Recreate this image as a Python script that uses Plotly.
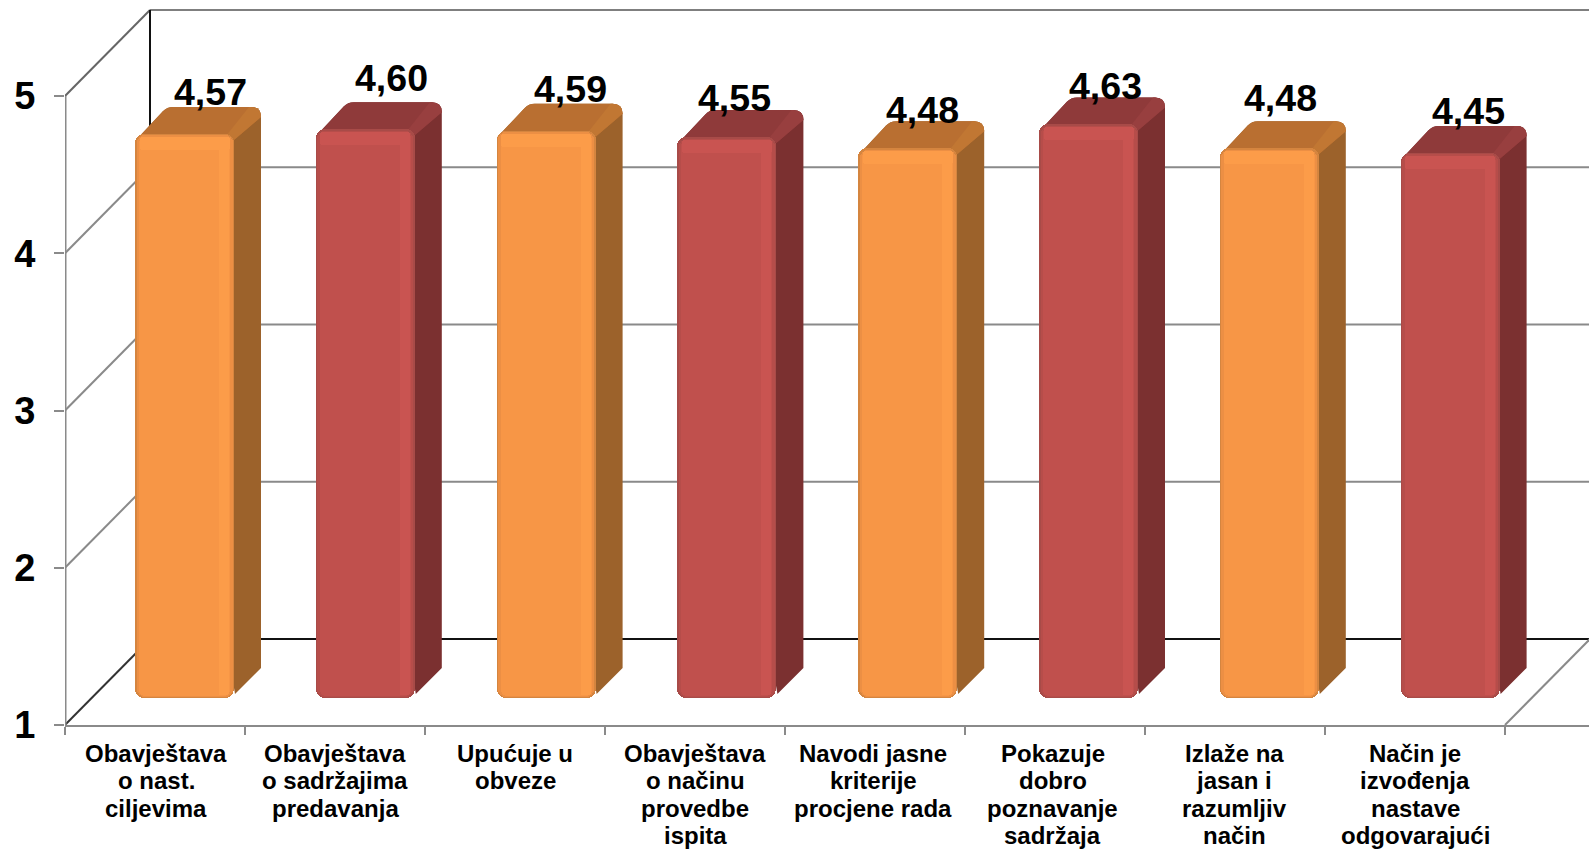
import math
import plotly.graph_objects as go

# ---- data ----
category_lines = [
    ["Obavještava", "o nast.", "ciljevima"],
    ["Obavještava", "o sadržajima", "predavanja"],
    ["Upućuje u", "obveze"],
    ["Obavještava", "o načinu", "provedbe", "ispita"],
    ["Navodi jasne", "kriterije", "procjene rada"],
    ["Pokazuje", "dobro", "poznavanje", "sadržaja"],
    ["Izlaže na", "jasan i", "razumljiv", "način"],
    ["Način je", "izvođenja", "nastave", "odgovarajući"],
]
values = [4.57, 4.60, 4.59, 4.55, 4.48, 4.63, 4.48, 4.45]
value_labels = ["4,57", "4,60", "4,59", "4,55", "4,48", "4,63", "4,48", "4,45"]
y_ticks = [1, 2, 3, 4, 5]

# ---- hand placed label nudges (pixels) ----
label_dx = [26.3, 25.7, 24.4, 7.8, 14.3, 17.1, 10.7, 18.3]
label_dy = [41.8, 51.2, 41.6, 38.8, 37.7, 38.5, 49.9, 42.4]
category_dx = [1, 0, 0, 0, -2, -2.5, -1, 0]

# ---- styles ----
W, H = 1589, 849
M_L, M_B = 65, 124
PX_X, PX_Y = 180.0, 157.25
WALL_DX, WALL_DY = 85, 86
BAR_DEPTH = 27
BAR_W = 99
BAR_PITCH = 180.8 / PX_X
BAR_START = 70 / PX_X
BAR_FLOOR = 27 / PX_Y
BAR_SCALE = 158 / PX_Y
GREY = "#8a8a8a"
FONT = "Liberation Sans"
pal = [
    dict(outer="#D5853F", edge="#EC8F44", main="#F79646", bright="#FC9C49",
         top="#B96F31", bevel="#C17733", side="#9C622B"),
    dict(outer="#A84B48", edge="#B64D4A", main="#C0504D", bright="#C95451",
         top="#8F3A3A", bevel="#983F3F", side="#7B3030"),
]
n = len(values)
colors = [pal[i % 2] for i in range(n)]


def dx(p):
    return p / PX_X


def dy(p):
    return p / PX_Y


def rounded_path(pts):
    """pts: (x_data, y_data, radius_px). Builds a closed path, rounding in pixel space."""
    m = len(pts)
    out = []
    for k in range(m):
        x, y, r = pts[k]
        if r <= 0:
            out.append(("L", x, y))
            continue
        px, py, _ = pts[k - 1]
        nx, ny, _ = pts[(k + 1) % m]
        v1 = ((px - x) * PX_X, (py - y) * PX_Y)
        v2 = ((nx - x) * PX_X, (ny - y) * PX_Y)
        l1, l2 = math.hypot(*v1), math.hypot(*v2)
        a = (x + v1[0] / l1 * r / PX_X, y + v1[1] / l1 * r / PX_Y)
        b = (x + v2[0] / l2 * r / PX_X, y + v2[1] / l2 * r / PX_Y)
        out.append(("L", a[0], a[1]))
        out.append(("Q", x, y, b[0], b[1]))
    s = ""
    for j, o in enumerate(out):
        if o[0] == "L":
            s += f"{'M' if j == 0 else 'L'}{o[1]:.5f},{o[2]:.5f} "
        else:
            s += f"Q{o[1]:.5f},{o[2]:.5f} {o[3]:.5f},{o[4]:.5f} "
    return s + "Z"


shapes = []


def line(x0, y0, x1, y1, color=GREY, width=2):
    shapes.append(dict(type="line", xref="x", yref="y", x0=x0, y0=y0, x1=x1, y1=y1,
                       layer="below", line=dict(color=color, width=width)))


def poly(pts, color):
    shapes.append(dict(type="path", xref="x", yref="y", path=rounded_path(pts),
                       fillcolor=color, layer="below", line=dict(width=0)))


# ---- chart frame, from the axis ticks ----
wx, wy = dx(WALL_DX), dy(WALL_DY)
x_max = (W - M_L) / PX_X
y_max = 1 + (H - M_B) / PX_Y
for t in y_ticks:
    if t == 1:
        line(wx, t + wy, x_max, t + wy, "#111111")
        line(0, t, wx, t + wy, "#333333")
    else:
        line(wx, t + wy, x_max, t + wy, "#7f7f7f" if t == 5 else GREY)
        line(0, t, wx, t + wy, "#666666" if t == 5 else GREY)
line(wx, 1 + wy, wx, 5 + wy, "#111111")
line(n, 1, n + wx, 1 + wy)
# front-left upright stops at the top tick, so it is drawn rather than left to the axis line
line(dx(0.5), 1, dx(0.5), 5)

# ---- bar geometry ----
lefts = [BAR_START + i * BAR_PITCH for i in range(n)]
rights = [l + dx(BAR_W) for l in lefts]
centers = [l + dx(BAR_W / 2) for l in lefts]
bottom = 1 + BAR_FLOOR
tops = [bottom + (v - 1) * BAR_SCALE for v in values]
d_x, d_y = dx(BAR_DEPTH), dy(BAR_DEPTH)

# ---- side and top faces ----
for i in range(n):
    L, R, T, c = lefts[i], rights[i], tops[i], colors[i]
    back_l = L + dx(32)
    poly([(L + dx(1), T - dy(6), 0), (back_l, T + d_y, 6), (R + d_x, T + d_y, 10),
          (R + d_x, bottom + dy(30), 0), (R + dx(1), bottom + dy(4), 0), (R, bottom + dy(10), 0)], c["side"])
    poly([(L + dx(1), T - dy(6), 0), (back_l, T + d_y, 6), (R + d_x, T + d_y, 10),
          (R + d_x, T + d_y - dy(10), 0), (R, T - dy(6), 0)], c["top"])
    poly([(R - dx(8), T - dy(2), 0), (R + dx(15), T + d_y, 0), (R + d_x, T + d_y, 10),
          (R + d_x, T + d_y - dy(10), 0), (R, T - dy(6), 0)], c["bevel"])

fig = go.Figure()


def face(inset_l, inset_r, inset_t, inset_b, key, radius):
    """One layer of a front face: a bar from the floor of the chart up to its value."""
    xs = [(l + dx(inset_l) + r - dx(inset_r)) / 2 for l, r in zip(lefts, rights)]
    lo = bottom + dy(inset_b)
    fig.add_bar(x=xs, y=[t - dy(inset_t) - lo for t in tops], base=lo,
                width=dx(BAR_W - inset_l - inset_r),
                marker=dict(color=[c[key] for c in colors], line=dict(width=0), cornerradius=radius))


face(0, 0, 0, 0, "outer", 9)
face(1.5, 1.5, 1.5, 1, "edge", 8)
face(4, 4, 3, 2, "main", 6)
face(84, 5, 5, 3, "bright", 2)
fig.add_bar(x=centers, y=[dy(13)] * n, base=[t - dy(16) for t in tops], width=dx(BAR_W - 9),
            marker=dict(color=[c["bright"] for c in colors], line=dict(width=0), cornerradius=3))

# ---- text ----
annotations = []
for i, (txt, c) in enumerate(zip(value_labels, centers)):
    annotations.append(dict(x=c, y=tops[i], xref="x", yref="y", text=txt, showarrow=False,
                            xanchor="center", yanchor="middle",
                            xshift=label_dx[i], yshift=label_dy[i],
                            font=dict(family=FONT, size=37.5, color="black", weight=700)))
for i, lines in enumerate(category_lines):
    for j, t in enumerate(lines):
        annotations.append(dict(x=i + 0.5, y=1, xref="x", yref="y", text=t, showarrow=False,
                                xanchor="center", yanchor="middle",
                                xshift=category_dx[i], yshift=-(28 + j * 27.5),
                                font=dict(family=FONT, size=24, color="black", weight=700)))

fig.update_layout(
    width=W, height=H, autosize=False, showlegend=False, barmode="overlay", bargap=0,
    margin=dict(l=M_L, r=0, t=0, b=M_B, pad=0),
    paper_bgcolor="white", plot_bgcolor="white", hovermode=False,
    shapes=shapes, annotations=annotations,
    xaxis=dict(range=[0, x_max], tickmode="array", tickvals=list(range(n + 1)),
               ticktext=[""] * (n + 1), ticks="outside", ticklen=8, tickwidth=2, tickcolor=GREY,
               showgrid=False, zeroline=False, showline=True, linecolor=GREY, linewidth=2),
    yaxis=dict(range=[1, y_max], tickmode="array", tickvals=y_ticks,
               ticks="outside", ticklen=10, tickwidth=2, tickcolor=GREY, ticklabelstandoff=11,
               tickfont=dict(family=FONT, size=38, color="black", weight=700),
               showgrid=False, zeroline=False, showline=False),
)

fig.write_html("out.html", post_script="document.body.style.margin='0';document.body.style.overflow='hidden';",
               config=dict(displayModeBar=False))
